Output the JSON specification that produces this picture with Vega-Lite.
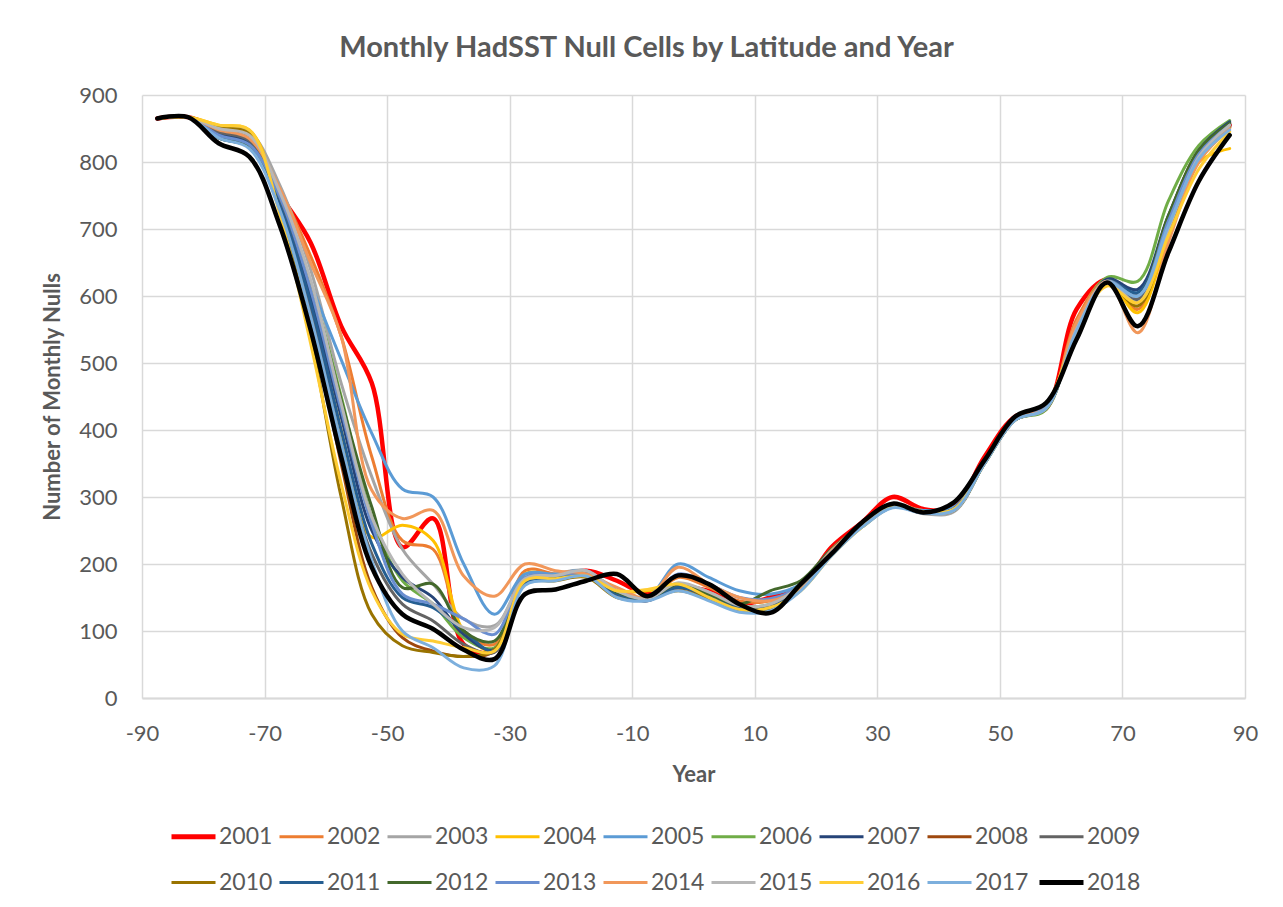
{
"$schema":"https://vega.github.io/schema/vega-lite/v6.json",
"width":1103,"height":603,
"autosize":{"type":"none"},
"padding":{"left":142,"top":95,"right":38,"bottom":209},
"background":"white",
"title":{"text":"Monthly HadSST Null Cells by Latitude and Year","font":"Lato","fontSize":29,"fontWeight":"bold","color":"#595959","anchor":"middle","dx":-47,"offset":-2,"baseline":"alphabetic"},
"data":{"values":[
{"yr":"2001","lat":-87.5,"n":865},{"yr":"2001","lat":-82.5,"n":867},{"yr":"2001","lat":-77.5,"n":850},{"yr":"2001","lat":-72.5,"n":835},{"yr":"2001","lat":-67.5,"n":752},{"yr":"2001","lat":-62.5,"n":680},{"yr":"2001","lat":-57.5,"n":555},{"yr":"2001","lat":-52.5,"n":470},{"yr":"2001","lat":-47.5,"n":225},{"yr":"2001","lat":-42.5,"n":268},{"yr":"2001","lat":-37.5,"n":80},{"yr":"2001","lat":-32.5,"n":70},{"yr":"2001","lat":-27.5,"n":175},{"yr":"2001","lat":-22.5,"n":178},{"yr":"2001","lat":-17.5,"n":190},{"yr":"2001","lat":-12.5,"n":175},{"yr":"2001","lat":-7.5,"n":155},{"yr":"2001","lat":-2.5,"n":165},{"yr":"2001","lat":2.5,"n":160},{"yr":"2001","lat":7.5,"n":140},{"yr":"2001","lat":12.5,"n":150},{"yr":"2001","lat":17.5,"n":165},{"yr":"2001","lat":22.5,"n":225},{"yr":"2001","lat":27.5,"n":262},{"yr":"2001","lat":32.5,"n":300},{"yr":"2001","lat":37.5,"n":282},{"yr":"2001","lat":42.5,"n":285},{"yr":"2001","lat":47.5,"n":360},{"yr":"2001","lat":52.5,"n":420},{"yr":"2001","lat":57.5,"n":432},{"yr":"2001","lat":62.5,"n":580},{"yr":"2001","lat":67.5,"n":625},{"yr":"2001","lat":72.5,"n":600},{"yr":"2001","lat":77.5,"n":715},{"yr":"2001","lat":82.5,"n":815},{"yr":"2001","lat":87.5,"n":855},
{"yr":"2002","lat":-87.5,"n":865},{"yr":"2002","lat":-82.5,"n":867},{"yr":"2002","lat":-77.5,"n":850},{"yr":"2002","lat":-72.5,"n":840},{"yr":"2002","lat":-67.5,"n":760},{"yr":"2002","lat":-62.5,"n":660},{"yr":"2002","lat":-57.5,"n":540},{"yr":"2002","lat":-52.5,"n":360},{"yr":"2002","lat":-47.5,"n":235},{"yr":"2002","lat":-42.5,"n":222},{"yr":"2002","lat":-37.5,"n":100},{"yr":"2002","lat":-32.5,"n":80},{"yr":"2002","lat":-27.5,"n":190},{"yr":"2002","lat":-22.5,"n":185},{"yr":"2002","lat":-17.5,"n":185},{"yr":"2002","lat":-12.5,"n":160},{"yr":"2002","lat":-7.5,"n":148},{"yr":"2002","lat":-2.5,"n":180},{"yr":"2002","lat":2.5,"n":165},{"yr":"2002","lat":7.5,"n":145},{"yr":"2002","lat":12.5,"n":145},{"yr":"2002","lat":17.5,"n":168},{"yr":"2002","lat":22.5,"n":222},{"yr":"2002","lat":27.5,"n":258},{"yr":"2002","lat":32.5,"n":288},{"yr":"2002","lat":37.5,"n":280},{"yr":"2002","lat":42.5,"n":283},{"yr":"2002","lat":47.5,"n":355},{"yr":"2002","lat":52.5,"n":418},{"yr":"2002","lat":57.5,"n":432},{"yr":"2002","lat":62.5,"n":565},{"yr":"2002","lat":67.5,"n":625},{"yr":"2002","lat":72.5,"n":580},{"yr":"2002","lat":77.5,"n":700},{"yr":"2002","lat":82.5,"n":805},{"yr":"2002","lat":87.5,"n":852},
{"yr":"2003","lat":-87.5,"n":865},{"yr":"2003","lat":-82.5,"n":867},{"yr":"2003","lat":-77.5,"n":852},{"yr":"2003","lat":-72.5,"n":845},{"yr":"2003","lat":-67.5,"n":765},{"yr":"2003","lat":-62.5,"n":640},{"yr":"2003","lat":-57.5,"n":470},{"yr":"2003","lat":-52.5,"n":330},{"yr":"2003","lat":-47.5,"n":222},{"yr":"2003","lat":-42.5,"n":170},{"yr":"2003","lat":-37.5,"n":118},{"yr":"2003","lat":-32.5,"n":108},{"yr":"2003","lat":-27.5,"n":175},{"yr":"2003","lat":-22.5,"n":185},{"yr":"2003","lat":-17.5,"n":190},{"yr":"2003","lat":-12.5,"n":158},{"yr":"2003","lat":-7.5,"n":145},{"yr":"2003","lat":-2.5,"n":170},{"yr":"2003","lat":2.5,"n":158},{"yr":"2003","lat":7.5,"n":138},{"yr":"2003","lat":12.5,"n":135},{"yr":"2003","lat":17.5,"n":165},{"yr":"2003","lat":22.5,"n":218},{"yr":"2003","lat":27.5,"n":258},{"yr":"2003","lat":32.5,"n":286},{"yr":"2003","lat":37.5,"n":275},{"yr":"2003","lat":42.5,"n":278},{"yr":"2003","lat":47.5,"n":350},{"yr":"2003","lat":52.5,"n":415},{"yr":"2003","lat":57.5,"n":432},{"yr":"2003","lat":62.5,"n":550},{"yr":"2003","lat":67.5,"n":620},{"yr":"2003","lat":72.5,"n":590},{"yr":"2003","lat":77.5,"n":705},{"yr":"2003","lat":82.5,"n":812},{"yr":"2003","lat":87.5,"n":855},
{"yr":"2004","lat":-87.5,"n":865},{"yr":"2004","lat":-82.5,"n":867},{"yr":"2004","lat":-77.5,"n":855},{"yr":"2004","lat":-72.5,"n":848},{"yr":"2004","lat":-67.5,"n":740},{"yr":"2004","lat":-62.5,"n":595},{"yr":"2004","lat":-57.5,"n":400},{"yr":"2004","lat":-52.5,"n":240},{"yr":"2004","lat":-47.5,"n":258},{"yr":"2004","lat":-42.5,"n":235},{"yr":"2004","lat":-37.5,"n":100},{"yr":"2004","lat":-32.5,"n":70},{"yr":"2004","lat":-27.5,"n":185},{"yr":"2004","lat":-22.5,"n":183},{"yr":"2004","lat":-17.5,"n":188},{"yr":"2004","lat":-12.5,"n":160},{"yr":"2004","lat":-7.5,"n":160},{"yr":"2004","lat":-2.5,"n":165},{"yr":"2004","lat":2.5,"n":155},{"yr":"2004","lat":7.5,"n":135},{"yr":"2004","lat":12.5,"n":135},{"yr":"2004","lat":17.5,"n":162},{"yr":"2004","lat":22.5,"n":215},{"yr":"2004","lat":27.5,"n":255},{"yr":"2004","lat":32.5,"n":285},{"yr":"2004","lat":37.5,"n":278},{"yr":"2004","lat":42.5,"n":282},{"yr":"2004","lat":47.5,"n":355},{"yr":"2004","lat":52.5,"n":420},{"yr":"2004","lat":57.5,"n":438},{"yr":"2004","lat":62.5,"n":550},{"yr":"2004","lat":67.5,"n":622},{"yr":"2004","lat":72.5,"n":575},{"yr":"2004","lat":77.5,"n":690},{"yr":"2004","lat":82.5,"n":800},{"yr":"2004","lat":87.5,"n":820},
{"yr":"2005","lat":-87.5,"n":865},{"yr":"2005","lat":-82.5,"n":867},{"yr":"2005","lat":-77.5,"n":845},{"yr":"2005","lat":-72.5,"n":830},{"yr":"2005","lat":-67.5,"n":755},{"yr":"2005","lat":-62.5,"n":620},{"yr":"2005","lat":-57.5,"n":505},{"yr":"2005","lat":-52.5,"n":395},{"yr":"2005","lat":-47.5,"n":312},{"yr":"2005","lat":-42.5,"n":300},{"yr":"2005","lat":-37.5,"n":200},{"yr":"2005","lat":-32.5,"n":125},{"yr":"2005","lat":-27.5,"n":185},{"yr":"2005","lat":-22.5,"n":185},{"yr":"2005","lat":-17.5,"n":190},{"yr":"2005","lat":-12.5,"n":160},{"yr":"2005","lat":-7.5,"n":150},{"yr":"2005","lat":-2.5,"n":200},{"yr":"2005","lat":2.5,"n":180},{"yr":"2005","lat":7.5,"n":160},{"yr":"2005","lat":12.5,"n":155},{"yr":"2005","lat":17.5,"n":170},{"yr":"2005","lat":22.5,"n":220},{"yr":"2005","lat":27.5,"n":255},{"yr":"2005","lat":32.5,"n":285},{"yr":"2005","lat":37.5,"n":280},{"yr":"2005","lat":42.5,"n":285},{"yr":"2005","lat":47.5,"n":350},{"yr":"2005","lat":52.5,"n":415},{"yr":"2005","lat":57.5,"n":435},{"yr":"2005","lat":62.5,"n":545},{"yr":"2005","lat":67.5,"n":620},{"yr":"2005","lat":72.5,"n":605},{"yr":"2005","lat":77.5,"n":710},{"yr":"2005","lat":82.5,"n":810},{"yr":"2005","lat":87.5,"n":852},
{"yr":"2006","lat":-87.5,"n":865},{"yr":"2006","lat":-82.5,"n":867},{"yr":"2006","lat":-77.5,"n":838},{"yr":"2006","lat":-72.5,"n":825},{"yr":"2006","lat":-67.5,"n":748},{"yr":"2006","lat":-62.5,"n":620},{"yr":"2006","lat":-57.5,"n":450},{"yr":"2006","lat":-52.5,"n":270},{"yr":"2006","lat":-47.5,"n":175},{"yr":"2006","lat":-42.5,"n":140},{"yr":"2006","lat":-37.5,"n":90},{"yr":"2006","lat":-32.5,"n":75},{"yr":"2006","lat":-27.5,"n":175},{"yr":"2006","lat":-22.5,"n":180},{"yr":"2006","lat":-17.5,"n":188},{"yr":"2006","lat":-12.5,"n":158},{"yr":"2006","lat":-7.5,"n":148},{"yr":"2006","lat":-2.5,"n":170},{"yr":"2006","lat":2.5,"n":155},{"yr":"2006","lat":7.5,"n":138},{"yr":"2006","lat":12.5,"n":140},{"yr":"2006","lat":17.5,"n":170},{"yr":"2006","lat":22.5,"n":220},{"yr":"2006","lat":27.5,"n":258},{"yr":"2006","lat":32.5,"n":287},{"yr":"2006","lat":37.5,"n":278},{"yr":"2006","lat":42.5,"n":280},{"yr":"2006","lat":47.5,"n":350},{"yr":"2006","lat":52.5,"n":415},{"yr":"2006","lat":57.5,"n":430},{"yr":"2006","lat":62.5,"n":555},{"yr":"2006","lat":67.5,"n":628},{"yr":"2006","lat":72.5,"n":622},{"yr":"2006","lat":77.5,"n":742},{"yr":"2006","lat":82.5,"n":825},{"yr":"2006","lat":87.5,"n":862},
{"yr":"2007","lat":-87.5,"n":865},{"yr":"2007","lat":-82.5,"n":867},{"yr":"2007","lat":-77.5,"n":842},{"yr":"2007","lat":-72.5,"n":828},{"yr":"2007","lat":-67.5,"n":740},{"yr":"2007","lat":-62.5,"n":600},{"yr":"2007","lat":-57.5,"n":420},{"yr":"2007","lat":-52.5,"n":250},{"yr":"2007","lat":-47.5,"n":180},{"yr":"2007","lat":-42.5,"n":150},{"yr":"2007","lat":-37.5,"n":95},{"yr":"2007","lat":-32.5,"n":72},{"yr":"2007","lat":-27.5,"n":175},{"yr":"2007","lat":-22.5,"n":180},{"yr":"2007","lat":-17.5,"n":185},{"yr":"2007","lat":-12.5,"n":155},{"yr":"2007","lat":-7.5,"n":145},{"yr":"2007","lat":-2.5,"n":168},{"yr":"2007","lat":2.5,"n":152},{"yr":"2007","lat":7.5,"n":135},{"yr":"2007","lat":12.5,"n":138},{"yr":"2007","lat":17.5,"n":168},{"yr":"2007","lat":22.5,"n":218},{"yr":"2007","lat":27.5,"n":258},{"yr":"2007","lat":32.5,"n":287},{"yr":"2007","lat":37.5,"n":278},{"yr":"2007","lat":42.5,"n":282},{"yr":"2007","lat":47.5,"n":352},{"yr":"2007","lat":52.5,"n":418},{"yr":"2007","lat":57.5,"n":432},{"yr":"2007","lat":62.5,"n":550},{"yr":"2007","lat":67.5,"n":625},{"yr":"2007","lat":72.5,"n":610},{"yr":"2007","lat":77.5,"n":720},{"yr":"2007","lat":82.5,"n":818},{"yr":"2007","lat":87.5,"n":860},
{"yr":"2008","lat":-87.5,"n":865},{"yr":"2008","lat":-82.5,"n":867},{"yr":"2008","lat":-77.5,"n":848},{"yr":"2008","lat":-72.5,"n":835},{"yr":"2008","lat":-67.5,"n":735},{"yr":"2008","lat":-62.5,"n":570},{"yr":"2008","lat":-57.5,"n":350},{"yr":"2008","lat":-52.5,"n":165},{"yr":"2008","lat":-47.5,"n":90},{"yr":"2008","lat":-42.5,"n":70},{"yr":"2008","lat":-37.5,"n":62},{"yr":"2008","lat":-32.5,"n":70},{"yr":"2008","lat":-27.5,"n":172},{"yr":"2008","lat":-22.5,"n":178},{"yr":"2008","lat":-17.5,"n":185},{"yr":"2008","lat":-12.5,"n":152},{"yr":"2008","lat":-7.5,"n":150},{"yr":"2008","lat":-2.5,"n":165},{"yr":"2008","lat":2.5,"n":150},{"yr":"2008","lat":7.5,"n":132},{"yr":"2008","lat":12.5,"n":135},{"yr":"2008","lat":17.5,"n":165},{"yr":"2008","lat":22.5,"n":218},{"yr":"2008","lat":27.5,"n":258},{"yr":"2008","lat":32.5,"n":288},{"yr":"2008","lat":37.5,"n":278},{"yr":"2008","lat":42.5,"n":282},{"yr":"2008","lat":47.5,"n":352},{"yr":"2008","lat":52.5,"n":418},{"yr":"2008","lat":57.5,"n":435},{"yr":"2008","lat":62.5,"n":550},{"yr":"2008","lat":67.5,"n":622},{"yr":"2008","lat":72.5,"n":590},{"yr":"2008","lat":77.5,"n":705},{"yr":"2008","lat":82.5,"n":810},{"yr":"2008","lat":87.5,"n":855},
{"yr":"2009","lat":-87.5,"n":865},{"yr":"2009","lat":-82.5,"n":867},{"yr":"2009","lat":-77.5,"n":845},{"yr":"2009","lat":-72.5,"n":832},{"yr":"2009","lat":-67.5,"n":740},{"yr":"2009","lat":-62.5,"n":585},{"yr":"2009","lat":-57.5,"n":380},{"yr":"2009","lat":-52.5,"n":215},{"yr":"2009","lat":-47.5,"n":140},{"yr":"2009","lat":-42.5,"n":115},{"yr":"2009","lat":-37.5,"n":80},{"yr":"2009","lat":-32.5,"n":68},{"yr":"2009","lat":-27.5,"n":175},{"yr":"2009","lat":-22.5,"n":180},{"yr":"2009","lat":-17.5,"n":185},{"yr":"2009","lat":-12.5,"n":155},{"yr":"2009","lat":-7.5,"n":148},{"yr":"2009","lat":-2.5,"n":168},{"yr":"2009","lat":2.5,"n":155},{"yr":"2009","lat":7.5,"n":135},{"yr":"2009","lat":12.5,"n":135},{"yr":"2009","lat":17.5,"n":165},{"yr":"2009","lat":22.5,"n":216},{"yr":"2009","lat":27.5,"n":258},{"yr":"2009","lat":32.5,"n":287},{"yr":"2009","lat":37.5,"n":276},{"yr":"2009","lat":42.5,"n":282},{"yr":"2009","lat":47.5,"n":352},{"yr":"2009","lat":52.5,"n":418},{"yr":"2009","lat":57.5,"n":434},{"yr":"2009","lat":62.5,"n":550},{"yr":"2009","lat":67.5,"n":622},{"yr":"2009","lat":72.5,"n":595},{"yr":"2009","lat":77.5,"n":710},{"yr":"2009","lat":82.5,"n":812},{"yr":"2009","lat":87.5,"n":856},
{"yr":"2010","lat":-87.5,"n":865},{"yr":"2010","lat":-82.5,"n":867},{"yr":"2010","lat":-77.5,"n":852},{"yr":"2010","lat":-72.5,"n":842},{"yr":"2010","lat":-67.5,"n":728},{"yr":"2010","lat":-62.5,"n":540},{"yr":"2010","lat":-57.5,"n":300},{"yr":"2010","lat":-52.5,"n":125},{"yr":"2010","lat":-47.5,"n":78},{"yr":"2010","lat":-42.5,"n":68},{"yr":"2010","lat":-37.5,"n":62},{"yr":"2010","lat":-32.5,"n":72},{"yr":"2010","lat":-27.5,"n":170},{"yr":"2010","lat":-22.5,"n":175},{"yr":"2010","lat":-17.5,"n":180},{"yr":"2010","lat":-12.5,"n":150},{"yr":"2010","lat":-7.5,"n":148},{"yr":"2010","lat":-2.5,"n":160},{"yr":"2010","lat":2.5,"n":148},{"yr":"2010","lat":7.5,"n":130},{"yr":"2010","lat":12.5,"n":132},{"yr":"2010","lat":17.5,"n":165},{"yr":"2010","lat":22.5,"n":215},{"yr":"2010","lat":27.5,"n":258},{"yr":"2010","lat":32.5,"n":287},{"yr":"2010","lat":37.5,"n":278},{"yr":"2010","lat":42.5,"n":280},{"yr":"2010","lat":47.5,"n":350},{"yr":"2010","lat":52.5,"n":415},{"yr":"2010","lat":57.5,"n":432},{"yr":"2010","lat":62.5,"n":548},{"yr":"2010","lat":67.5,"n":620},{"yr":"2010","lat":72.5,"n":585},{"yr":"2010","lat":77.5,"n":700},{"yr":"2010","lat":82.5,"n":805},{"yr":"2010","lat":87.5,"n":852},
{"yr":"2011","lat":-87.5,"n":865},{"yr":"2011","lat":-82.5,"n":867},{"yr":"2011","lat":-77.5,"n":836},{"yr":"2011","lat":-72.5,"n":822},{"yr":"2011","lat":-67.5,"n":735},{"yr":"2011","lat":-62.5,"n":590},{"yr":"2011","lat":-57.5,"n":400},{"yr":"2011","lat":-52.5,"n":230},{"yr":"2011","lat":-47.5,"n":150},{"yr":"2011","lat":-42.5,"n":135},{"yr":"2011","lat":-37.5,"n":100},{"yr":"2011","lat":-32.5,"n":70},{"yr":"2011","lat":-27.5,"n":172},{"yr":"2011","lat":-22.5,"n":178},{"yr":"2011","lat":-17.5,"n":185},{"yr":"2011","lat":-12.5,"n":155},{"yr":"2011","lat":-7.5,"n":148},{"yr":"2011","lat":-2.5,"n":165},{"yr":"2011","lat":2.5,"n":152},{"yr":"2011","lat":7.5,"n":135},{"yr":"2011","lat":12.5,"n":135},{"yr":"2011","lat":17.5,"n":165},{"yr":"2011","lat":22.5,"n":218},{"yr":"2011","lat":27.5,"n":258},{"yr":"2011","lat":32.5,"n":287},{"yr":"2011","lat":37.5,"n":278},{"yr":"2011","lat":42.5,"n":282},{"yr":"2011","lat":47.5,"n":352},{"yr":"2011","lat":52.5,"n":418},{"yr":"2011","lat":57.5,"n":434},{"yr":"2011","lat":62.5,"n":552},{"yr":"2011","lat":67.5,"n":622},{"yr":"2011","lat":72.5,"n":605},{"yr":"2011","lat":77.5,"n":712},{"yr":"2011","lat":82.5,"n":815},{"yr":"2011","lat":87.5,"n":858},
{"yr":"2012","lat":-87.5,"n":865},{"yr":"2012","lat":-82.5,"n":867},{"yr":"2012","lat":-77.5,"n":836},{"yr":"2012","lat":-72.5,"n":822},{"yr":"2012","lat":-67.5,"n":750},{"yr":"2012","lat":-62.5,"n":620},{"yr":"2012","lat":-57.5,"n":445},{"yr":"2012","lat":-52.5,"n":285},{"yr":"2012","lat":-47.5,"n":165},{"yr":"2012","lat":-42.5,"n":170},{"yr":"2012","lat":-37.5,"n":100},{"yr":"2012","lat":-32.5,"n":85},{"yr":"2012","lat":-27.5,"n":178},{"yr":"2012","lat":-22.5,"n":182},{"yr":"2012","lat":-17.5,"n":185},{"yr":"2012","lat":-12.5,"n":158},{"yr":"2012","lat":-7.5,"n":148},{"yr":"2012","lat":-2.5,"n":170},{"yr":"2012","lat":2.5,"n":155},{"yr":"2012","lat":7.5,"n":140},{"yr":"2012","lat":12.5,"n":160},{"yr":"2012","lat":17.5,"n":175},{"yr":"2012","lat":22.5,"n":222},{"yr":"2012","lat":27.5,"n":258},{"yr":"2012","lat":32.5,"n":287},{"yr":"2012","lat":37.5,"n":278},{"yr":"2012","lat":42.5,"n":280},{"yr":"2012","lat":47.5,"n":350},{"yr":"2012","lat":52.5,"n":415},{"yr":"2012","lat":57.5,"n":432},{"yr":"2012","lat":62.5,"n":552},{"yr":"2012","lat":67.5,"n":622},{"yr":"2012","lat":72.5,"n":600},{"yr":"2012","lat":77.5,"n":720},{"yr":"2012","lat":82.5,"n":818},{"yr":"2012","lat":87.5,"n":858},
{"yr":"2013","lat":-87.5,"n":865},{"yr":"2013","lat":-82.5,"n":867},{"yr":"2013","lat":-77.5,"n":840},{"yr":"2013","lat":-72.5,"n":826},{"yr":"2013","lat":-67.5,"n":748},{"yr":"2013","lat":-62.5,"n":610},{"yr":"2013","lat":-57.5,"n":430},{"yr":"2013","lat":-52.5,"n":260},{"yr":"2013","lat":-47.5,"n":155},{"yr":"2013","lat":-42.5,"n":140},{"yr":"2013","lat":-37.5,"n":118},{"yr":"2013","lat":-32.5,"n":95},{"yr":"2013","lat":-27.5,"n":180},{"yr":"2013","lat":-22.5,"n":183},{"yr":"2013","lat":-17.5,"n":185},{"yr":"2013","lat":-12.5,"n":160},{"yr":"2013","lat":-7.5,"n":150},{"yr":"2013","lat":-2.5,"n":185},{"yr":"2013","lat":2.5,"n":170},{"yr":"2013","lat":7.5,"n":150},{"yr":"2013","lat":12.5,"n":148},{"yr":"2013","lat":17.5,"n":168},{"yr":"2013","lat":22.5,"n":220},{"yr":"2013","lat":27.5,"n":258},{"yr":"2013","lat":32.5,"n":287},{"yr":"2013","lat":37.5,"n":278},{"yr":"2013","lat":42.5,"n":282},{"yr":"2013","lat":47.5,"n":352},{"yr":"2013","lat":52.5,"n":418},{"yr":"2013","lat":57.5,"n":434},{"yr":"2013","lat":62.5,"n":552},{"yr":"2013","lat":67.5,"n":622},{"yr":"2013","lat":72.5,"n":600},{"yr":"2013","lat":77.5,"n":712},{"yr":"2013","lat":82.5,"n":812},{"yr":"2013","lat":87.5,"n":855},
{"yr":"2014","lat":-87.5,"n":865},{"yr":"2014","lat":-82.5,"n":867},{"yr":"2014","lat":-77.5,"n":848},{"yr":"2014","lat":-72.5,"n":835},{"yr":"2014","lat":-67.5,"n":760},{"yr":"2014","lat":-62.5,"n":650},{"yr":"2014","lat":-57.5,"n":540},{"yr":"2014","lat":-52.5,"n":310},{"yr":"2014","lat":-47.5,"n":268},{"yr":"2014","lat":-42.5,"n":280},{"yr":"2014","lat":-37.5,"n":182},{"yr":"2014","lat":-32.5,"n":152},{"yr":"2014","lat":-27.5,"n":200},{"yr":"2014","lat":-22.5,"n":190},{"yr":"2014","lat":-17.5,"n":185},{"yr":"2014","lat":-12.5,"n":165},{"yr":"2014","lat":-7.5,"n":150},{"yr":"2014","lat":-2.5,"n":195},{"yr":"2014","lat":2.5,"n":170},{"yr":"2014","lat":7.5,"n":150},{"yr":"2014","lat":12.5,"n":145},{"yr":"2014","lat":17.5,"n":165},{"yr":"2014","lat":22.5,"n":220},{"yr":"2014","lat":27.5,"n":258},{"yr":"2014","lat":32.5,"n":287},{"yr":"2014","lat":37.5,"n":278},{"yr":"2014","lat":42.5,"n":280},{"yr":"2014","lat":47.5,"n":352},{"yr":"2014","lat":52.5,"n":418},{"yr":"2014","lat":57.5,"n":432},{"yr":"2014","lat":62.5,"n":560},{"yr":"2014","lat":67.5,"n":622},{"yr":"2014","lat":72.5,"n":545},{"yr":"2014","lat":77.5,"n":680},{"yr":"2014","lat":82.5,"n":800},{"yr":"2014","lat":87.5,"n":850},
{"yr":"2015","lat":-87.5,"n":865},{"yr":"2015","lat":-82.5,"n":867},{"yr":"2015","lat":-77.5,"n":850},{"yr":"2015","lat":-72.5,"n":840},{"yr":"2015","lat":-67.5,"n":755},{"yr":"2015","lat":-62.5,"n":625},{"yr":"2015","lat":-57.5,"n":440},{"yr":"2015","lat":-52.5,"n":270},{"yr":"2015","lat":-47.5,"n":185},{"yr":"2015","lat":-42.5,"n":140},{"yr":"2015","lat":-37.5,"n":105},{"yr":"2015","lat":-32.5,"n":105},{"yr":"2015","lat":-27.5,"n":178},{"yr":"2015","lat":-22.5,"n":183},{"yr":"2015","lat":-17.5,"n":190},{"yr":"2015","lat":-12.5,"n":160},{"yr":"2015","lat":-7.5,"n":148},{"yr":"2015","lat":-2.5,"n":172},{"yr":"2015","lat":2.5,"n":158},{"yr":"2015","lat":7.5,"n":138},{"yr":"2015","lat":12.5,"n":140},{"yr":"2015","lat":17.5,"n":168},{"yr":"2015","lat":22.5,"n":218},{"yr":"2015","lat":27.5,"n":258},{"yr":"2015","lat":32.5,"n":287},{"yr":"2015","lat":37.5,"n":278},{"yr":"2015","lat":42.5,"n":280},{"yr":"2015","lat":47.5,"n":350},{"yr":"2015","lat":52.5,"n":415},{"yr":"2015","lat":57.5,"n":432},{"yr":"2015","lat":62.5,"n":550},{"yr":"2015","lat":67.5,"n":622},{"yr":"2015","lat":72.5,"n":590},{"yr":"2015","lat":77.5,"n":700},{"yr":"2015","lat":82.5,"n":808},{"yr":"2015","lat":87.5,"n":855},
{"yr":"2016","lat":-87.5,"n":865},{"yr":"2016","lat":-82.5,"n":867},{"yr":"2016","lat":-77.5,"n":855},{"yr":"2016","lat":-72.5,"n":848},{"yr":"2016","lat":-67.5,"n":722},{"yr":"2016","lat":-62.5,"n":530},{"yr":"2016","lat":-57.5,"n":320},{"yr":"2016","lat":-52.5,"n":160},{"yr":"2016","lat":-47.5,"n":95},{"yr":"2016","lat":-42.5,"n":85},{"yr":"2016","lat":-37.5,"n":75},{"yr":"2016","lat":-32.5,"n":70},{"yr":"2016","lat":-27.5,"n":175},{"yr":"2016","lat":-22.5,"n":178},{"yr":"2016","lat":-17.5,"n":182},{"yr":"2016","lat":-12.5,"n":160},{"yr":"2016","lat":-7.5,"n":162},{"yr":"2016","lat":-2.5,"n":170},{"yr":"2016","lat":2.5,"n":150},{"yr":"2016","lat":7.5,"n":132},{"yr":"2016","lat":12.5,"n":135},{"yr":"2016","lat":17.5,"n":160},{"yr":"2016","lat":22.5,"n":212},{"yr":"2016","lat":27.5,"n":255},{"yr":"2016","lat":32.5,"n":285},{"yr":"2016","lat":37.5,"n":278},{"yr":"2016","lat":42.5,"n":282},{"yr":"2016","lat":47.5,"n":352},{"yr":"2016","lat":52.5,"n":420},{"yr":"2016","lat":57.5,"n":440},{"yr":"2016","lat":62.5,"n":545},{"yr":"2016","lat":67.5,"n":615},{"yr":"2016","lat":72.5,"n":590},{"yr":"2016","lat":77.5,"n":690},{"yr":"2016","lat":82.5,"n":790},{"yr":"2016","lat":87.5,"n":845},
{"yr":"2017","lat":-87.5,"n":865},{"yr":"2017","lat":-82.5,"n":867},{"yr":"2017","lat":-77.5,"n":836},{"yr":"2017","lat":-72.5,"n":820},{"yr":"2017","lat":-67.5,"n":728},{"yr":"2017","lat":-62.5,"n":570},{"yr":"2017","lat":-57.5,"n":380},{"yr":"2017","lat":-52.5,"n":205},{"yr":"2017","lat":-47.5,"n":100},{"yr":"2017","lat":-42.5,"n":75},{"yr":"2017","lat":-37.5,"n":45},{"yr":"2017","lat":-32.5,"n":48},{"yr":"2017","lat":-27.5,"n":168},{"yr":"2017","lat":-22.5,"n":175},{"yr":"2017","lat":-17.5,"n":182},{"yr":"2017","lat":-12.5,"n":150},{"yr":"2017","lat":-7.5,"n":145},{"yr":"2017","lat":-2.5,"n":160},{"yr":"2017","lat":2.5,"n":145},{"yr":"2017","lat":7.5,"n":128},{"yr":"2017","lat":12.5,"n":130},{"yr":"2017","lat":17.5,"n":160},{"yr":"2017","lat":22.5,"n":212},{"yr":"2017","lat":27.5,"n":255},{"yr":"2017","lat":32.5,"n":284},{"yr":"2017","lat":37.5,"n":276},{"yr":"2017","lat":42.5,"n":280},{"yr":"2017","lat":47.5,"n":350},{"yr":"2017","lat":52.5,"n":415},{"yr":"2017","lat":57.5,"n":432},{"yr":"2017","lat":62.5,"n":548},{"yr":"2017","lat":67.5,"n":620},{"yr":"2017","lat":72.5,"n":600},{"yr":"2017","lat":77.5,"n":705},{"yr":"2017","lat":82.5,"n":805},{"yr":"2017","lat":87.5,"n":848},
{"yr":"2018","lat":-87.5,"n":865},{"yr":"2018","lat":-82.5,"n":867},{"yr":"2018","lat":-77.5,"n":828},{"yr":"2018","lat":-72.5,"n":808},{"yr":"2018","lat":-67.5,"n":705},{"yr":"2018","lat":-62.5,"n":550},{"yr":"2018","lat":-57.5,"n":360},{"yr":"2018","lat":-52.5,"n":195},{"yr":"2018","lat":-47.5,"n":125},{"yr":"2018","lat":-42.5,"n":103},{"yr":"2018","lat":-37.5,"n":72},{"yr":"2018","lat":-32.5,"n":58},{"yr":"2018","lat":-27.5,"n":155},{"yr":"2018","lat":-22.5,"n":162},{"yr":"2018","lat":-17.5,"n":175},{"yr":"2018","lat":-12.5,"n":185},{"yr":"2018","lat":-7.5,"n":152},{"yr":"2018","lat":-2.5,"n":183},{"yr":"2018","lat":2.5,"n":170},{"yr":"2018","lat":7.5,"n":140},{"yr":"2018","lat":12.5,"n":127},{"yr":"2018","lat":17.5,"n":170},{"yr":"2018","lat":22.5,"n":215},{"yr":"2018","lat":27.5,"n":262},{"yr":"2018","lat":32.5,"n":290},{"yr":"2018","lat":37.5,"n":277},{"yr":"2018","lat":42.5,"n":292},{"yr":"2018","lat":47.5,"n":355},{"yr":"2018","lat":52.5,"n":420},{"yr":"2018","lat":57.5,"n":440},{"yr":"2018","lat":62.5,"n":535},{"yr":"2018","lat":67.5,"n":620},{"yr":"2018","lat":72.5,"n":555},{"yr":"2018","lat":77.5,"n":665},{"yr":"2018","lat":82.5,"n":772},{"yr":"2018","lat":87.5,"n":840}
]},
"mark":{"type":"line","interpolate":"catmull-rom","strokeCap":"round","strokeJoin":"round"},
"encoding":{
"x":{"field":"lat","type":"quantitative","scale":{"domain":[-90,90],"nice":false,"zero":false},
 "axis":{"values":[-90,-70,-50,-30,-10,10,30,50,70,90],"labelExpr":"datum.value < 0 ? '-' + abs(datum.value) : '' + datum.value","title":"Year","labelPadding":25,"titlePadding":20,"domain":true,"domainColor":"#D9D9D9","domainWidth":2,"labelFlush":false}},
"y":{"field":"n","type":"quantitative","scale":{"domain":[0,900],"nice":false},
 "axis":{"values":[0,100,200,300,400,500,600,700,800,900],"title":"Number of Monthly Nulls","labelPadding":25,"titlePadding":14,"domain":false}},
"color":{"field":"yr","type":"nominal",
 "scale":{"domain":["2001","2002","2003","2004","2005","2006","2007","2008","2009","2010","2011","2012","2013","2014","2015","2016","2017","2018"],
  "range":["#FF0000","#ED7D31","#A5A5A5","#FFC000","#5B9BD5","#70AD47","#264478","#9E480E","#636363","#997300","#255E91","#43682B","#698ED0","#F1975A","#B7B7B7","#FFCD33","#7CAFDD","#000000"]},
 "legend":{"orient":"none","legendX":40,"legendY":730,"direction":"horizontal","columns":9,"title":null,"symbolType":"stroke","symbolSize":1936,"symbolStrokeWidth":3,"labelFontSize":23,"labelFont":"Lato","labelColor":"#595959","labelOffset":14,"columnPadding":0,"rowPadding":22,"padding":0,
  "encode":{"symbols":{"update":{"strokeWidth":{"signal":"datum.value === '2001' || datum.value === '2018' ? 5 : 3"}}}}}},
"strokeWidth":{"condition":{"test":"datum.yr === '2001' || datum.yr === '2018'","value":4.5},"value":3}
},
"config":{
"font":"Lato",
"view":{"stroke":null},
"axis":{"grid":true,"gridColor":"#D9D9D9","gridWidth":1.5,"ticks":false,"labelColor":"#595959","labelFont":"Lato","labelFontSize":22,"titleColor":"#595959","titleFont":"Lato","titleFontSize":22,"titleFontWeight":"bold"}
}
}
